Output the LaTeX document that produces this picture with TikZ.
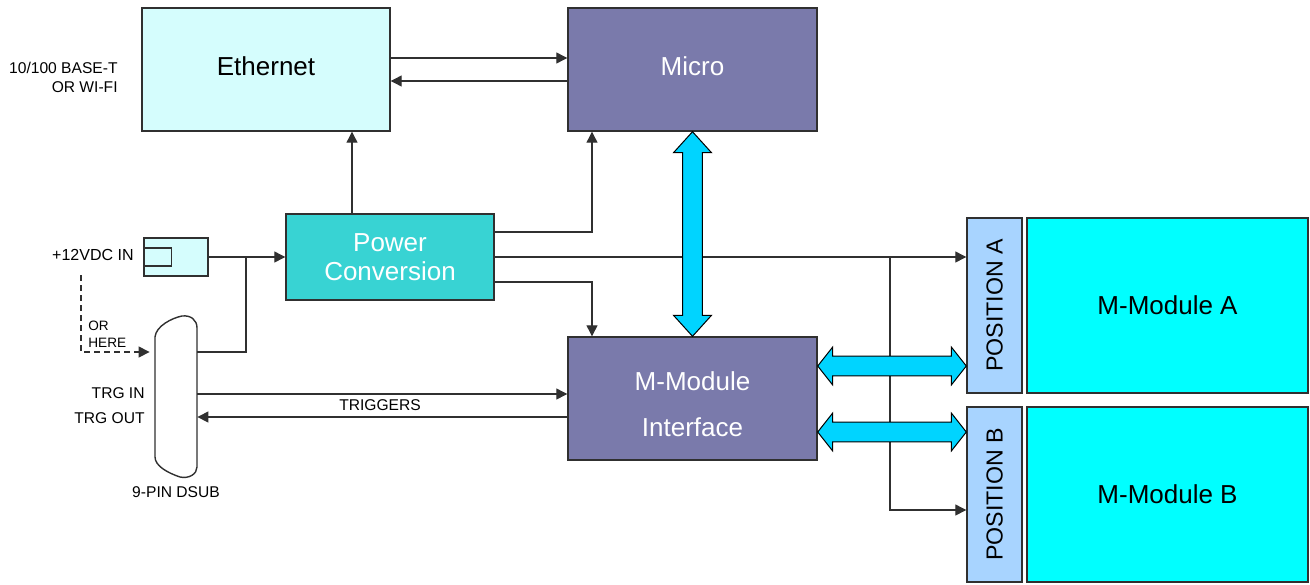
\documentclass[tikz,border=0pt]{standalone}
\usepackage{fontspec}
\setmainfont{Liberation Sans}
\usetikzlibrary{positioning,calc,arrows.meta}

\definecolor{ethfill}{HTML}{D5FDFD}
\definecolor{cpufill}{HTML}{7A7AAB}
\definecolor{pwrfill}{HTML}{38D3D3}
\definecolor{slotfill}{HTML}{A8D4FF}
\definecolor{modfill}{HTML}{00FFFF}
\definecolor{busfill}{HTML}{00D4FF}
\definecolor{edge}{HTML}{303030}

\tikzset{
  blk/.style={draw=edge, line width=0.7pt, inner sep=0pt, align=center,
    font=\fontsize{13}{15}\selectfont},
  sig/.style={draw=edge, line width=0.6pt, -{Triangle[length=5.5pt,width=5.5pt]}},
  wire/.style={draw=edge, line width=0.6pt},
  lbl/.style={inner sep=0pt, font=\fontsize{7.8}{9}\selectfont},
  bus/.style={draw=black, line width=0.5pt, fill=busfill},
}

% fat two-headed bus arrow: head length, from, to
\newcommand{\busarrow}[3]{%
  \path (#2) coordinate (ba) (#3) coordinate (bb)
    ($(ba)!#1!(bb)$) coordinate (ha) ($(bb)!#1!(ba)$) coordinate (hb);
  \draw[bus] (ba) -- ($(ha)!9.5pt!90:(bb)$) -- ($(ha)!4.9pt!90:(bb)$)
    -- ($(hb)!4.9pt!-90:(ba)$) -- ($(hb)!9.5pt!-90:(ba)$) -- (bb)
    -- ($(hb)!9.5pt!90:(ba)$) -- ($(hb)!4.9pt!90:(ba)$)
    -- ($(ha)!4.9pt!-90:(bb)$) -- ($(ha)!9.5pt!-90:(bb)$) -- cycle;
}

\begin{document}
\begin{tikzpicture}[x=0.5pt,y=-0.5pt]
  \useasboundingbox (0,0) rectangle (1310,584);

  % blocks
  \node[blk, fill=ethfill, minimum width=124pt, minimum height=61.5pt, text depth=3.5pt] (eth) at (266,69.5) {Ethernet};
  \node[blk, fill=cpufill, text=white, minimum width=124.5pt, minimum height=61.5pt, text depth=3.5pt] (micro) at (692.5,69.5) {Micro};
  \node[blk, fill=pwrfill, text=white, minimum width=104pt, minimum height=43pt,
    font=\fontsize{13}{14.5}\selectfont] (pwr) at (390,257) {Power\\Conversion};
  \node[blk, fill=cpufill, minimum width=124.5pt, minimum height=61.5pt] (mmi) at (692.5,398.5) {};
  \node[text=white, align=center, inner sep=0pt, font=\fontsize{13}{23}\selectfont] (mmitxt)
    at ($(mmi.center)+(0,6)$) {M-Module\\Interface};
  \node[blk, fill=slotfill, minimum width=27.5pt, minimum height=87.5pt] (posA) at (994.5,305.5) {};
  \node[blk, fill=slotfill, minimum width=27.5pt, minimum height=87.5pt] (posB) at (994.5,494.5) {};
  \node[rotate=90, font=\fontsize{11.6}{13}\selectfont] (posAtxt) at (posA) {POSITION A};
  \node[rotate=90, font=\fontsize{11.6}{13}\selectfont] (posBtxt) at (posB) {POSITION B};
  \node[blk, fill=modfill, minimum width=140.5pt, minimum height=87.5pt] (modA) at (1167.5,305.5) {M-Module A};
  \node[blk, fill=modfill, minimum width=140.5pt, minimum height=87.5pt] (modB) at (1167.5,494.5) {M-Module B};

  % power jack and connector
  \node[blk, fill=ethfill, minimum width=32pt, minimum height=19pt] (jack) at (176,257) {};
  \draw[edge, line width=0.7pt] ($(jack.west)+(0,-9)$) rectangle ($(jack.west)+(28,9)$);
  \node[inner sep=0pt, minimum width=21pt, minimum height=80pt] (dsub) at (176,396) {};
  \draw[edge, line width=0.7pt] (155,337) -- (155,457)
    .. controls (155,466) and (168,473) .. (180,477)
    .. controls (189,479) and (197,474) .. (197,467) -- (197,328)
    .. controls (197,320) and (191,315) .. (182,316)
    .. controls (172,318) and (156,326) .. (155,337) -- cycle;

  % labels
  \node[lbl, anchor=east, align=right, font=\fontsize{7.8}{9.2}\selectfont] (net) at (118,77.5) {10/100 BASE-T\\OR WI-FI};
  \node[lbl, anchor=east, font=\fontsize{8}{10}\selectfont] (vin) at (134,255) {+12VDC IN};
  \node[lbl, anchor=west, align=left, font=\fontsize{6.8}{8.5}\selectfont] (orhere) at (88,334) {OR\\HERE};
  \node[lbl, anchor=east] (trgin) at (145,393) {TRG IN};
  \node[lbl, anchor=east] (trgout) at (145,418) {TRG OUT};
  \node[lbl] (dsubname) at (176,492) {9-PIN DSUB};
  \node[lbl] (trig) at (380,405) {TRIGGERS};

  % signal lines
  \draw[sig] (eth.east |- 0,58) -- (micro.west |- 0,58);
  \draw[sig] (micro.west |- 0,81) -- (eth.east |- 0,81);
  \draw[sig] (pwr.north -| 352,0) -- (eth.south -| 352,0);
  \draw[sig] (pwr.east |- 0,232) -| (micro.south -| 592,0);
  \draw[sig] (pwr.east |- 0,282) -| (mmi.north -| 592,0);
  \draw[sig] (pwr.east) -- (posA.west |- pwr.east);
  \coordinate (split) at (pwr.east -| 890,0);
  \draw[sig] (split) |- (posB.west |- 0,510);
  \draw[sig] (jack.east) -- (pwr.west |- jack.east);
  \coordinate (tap) at (jack.east -| 246,0);
  \draw[wire] (tap) |- (dsub.east |- 0,352);
  \coordinate (alt) at (81,275);
  \draw[sig, dashed, dash pattern=on 3pt off 2pt, shorten >=2.5pt] (alt) |- (dsub.west |- 0,352);
  \draw[sig] (dsub.east |- 0,394) -- (mmi.west |- 0,394);
  \draw[sig] (mmi.west |- 0,417) -- (dsub.east |- 0,417);

  % buses
  \busarrow{10.5pt}{micro.south}{mmi.north}
  \busarrow{7.5pt}{mmi.east |- 0,366}{posA.west |- 0,366}
  \busarrow{7.5pt}{mmi.east |- 0,432}{posB.west |- 0,432}
\end{tikzpicture}
\end{document}
